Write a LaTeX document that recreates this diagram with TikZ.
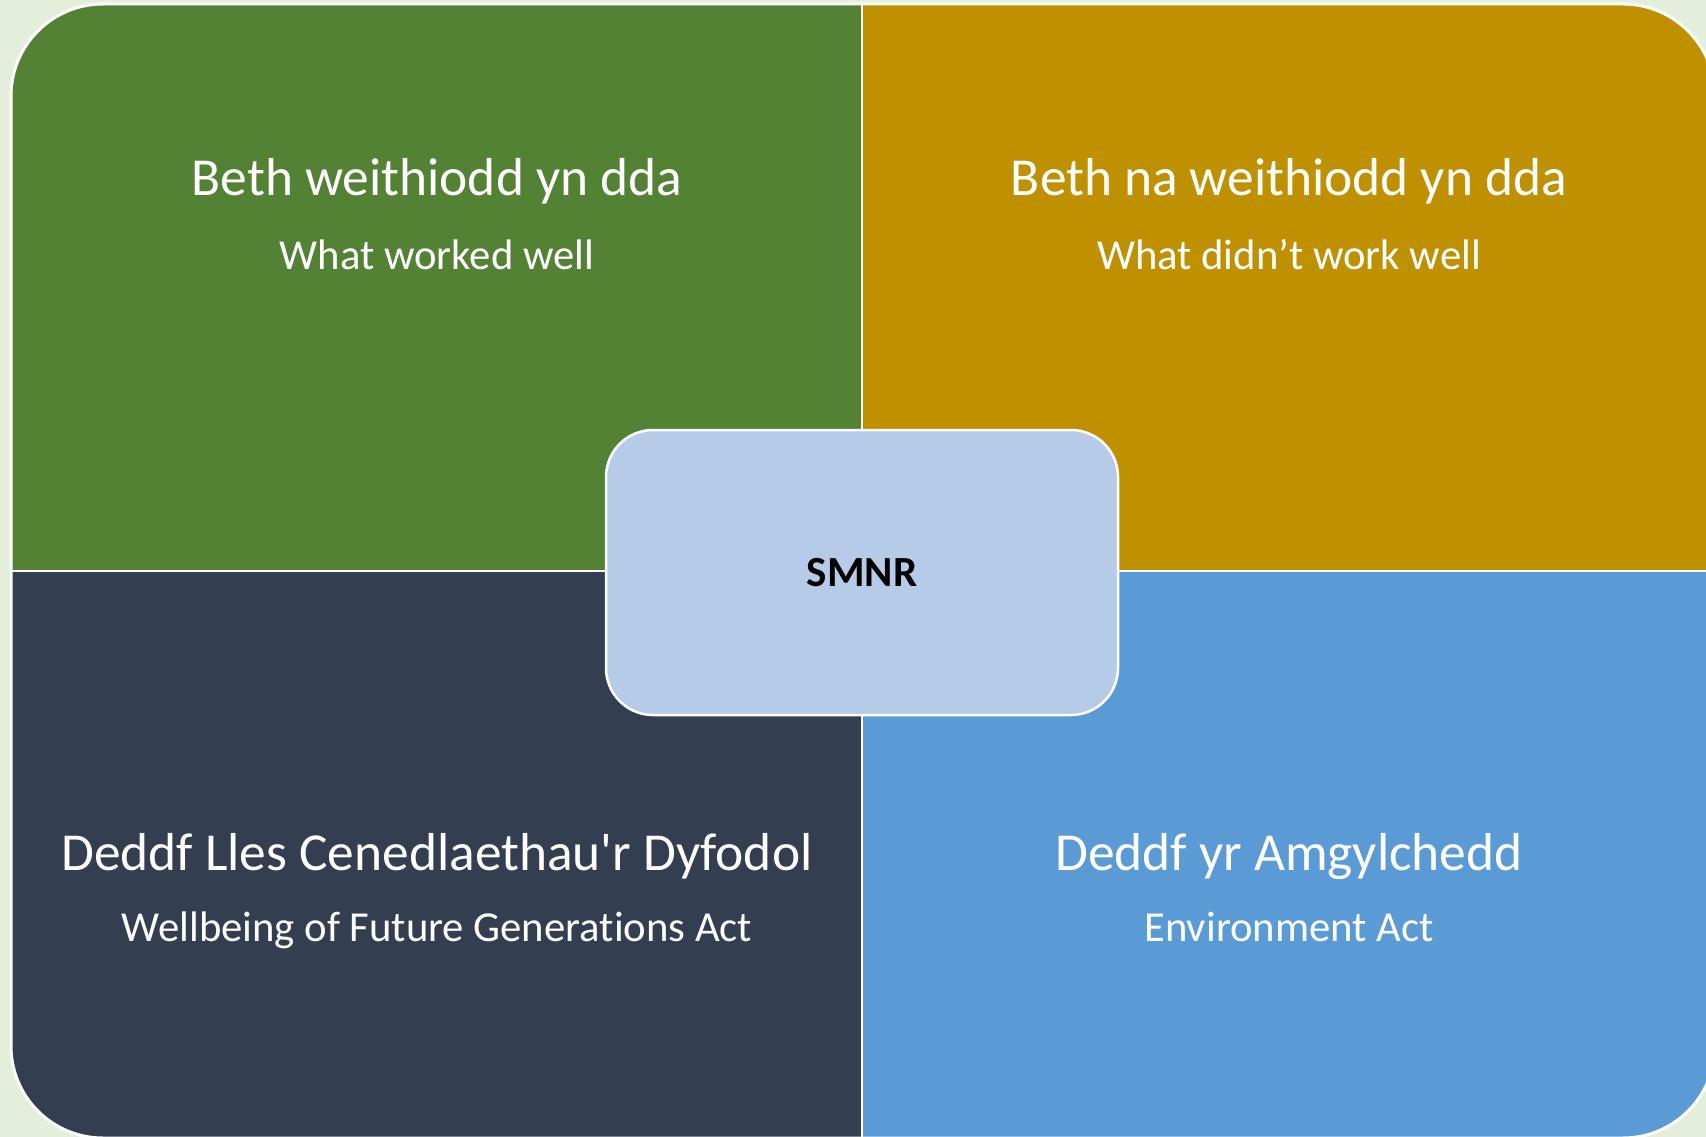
\documentclass[tikz,border=0pt]{standalone}
\usepackage{fontspec}
\setmainfont{Carlito}[Ligatures={TeXOff,NoCommon}]
\definecolor{bgc}{HTML}{E3EFDA}
\definecolor{qgreen}{HTML}{548235}
\definecolor{qgold}{HTML}{BF9000}
\definecolor{qnavy}{HTML}{333F50}
\definecolor{qblue}{HTML}{5B9BD5}
\definecolor{cbox}{HTML}{B6CBE8}
\tikzset{
  head/.style={anchor=base, text=white, font=\fontsize{53.4}{60}\selectfont, inner sep=0pt},
  sub/.style={anchor=base, text=white, font=\fontsize{42.7}{48}\selectfont, inner sep=0pt},
  centrebox/.style={fill=cbox, draw=white, line width=2.5pt, rounded corners=47pt,
    minimum width=512pt, minimum height=285pt, inner sep=0pt,
    font=\bfseries\fontsize{43}{48}\selectfont, text=black},
  divider/.style={draw=white, line width=2.5pt}
}
\begin{document}
\begin{tikzpicture}[x=1pt,y=-1pt]
\useasboundingbox (0,0) rectangle (1706,1137);
\clip (0,0) rectangle (1706,1137);
\fill[bgc] (0,0) rectangle (1706,1137);
\begin{scope}
  \clip[rounded corners=92pt] (11,4) rectangle (1715,1138);
  \fill[qgreen] (0,0) rectangle (862,571);
  \fill[qgold] (862,0) rectangle (1720,571);
  \fill[qnavy] (0,571) rectangle (862,1140);
  \fill[qblue] (862,571) rectangle (1720,1140);
  \coordinate (vt) at (862,0);
  \coordinate (vb) at (862,1140);
  \coordinate (hl) at (0,571);
  \coordinate (hr) at (1720,571);
  \draw[divider] (vt) -- (vb);
  \draw[divider] (hl) -- (hr);
\end{scope}
\draw[white, line width=3pt, rounded corners=92pt] (11,4) rectangle (1715,1138);
\node[centrebox] (smnr) at (862,572.5) {SMNR};
\node[head] (t1) at (437,196) {Beth weithiodd yn dda};
\node[sub] (s1) at (437,269) {What worked well};
\node[head] (t2) at (1289,196) {Beth na weithiodd yn dda};
\node[sub] (s2) at (1289,269) {What didn’t work well};
\node[head] (t3) at (437,870) {Deddf Lles Cenedlaethau'r Dyfodol};
\node[sub] (s3) at (437,941) {Wellbeing of Future Generations Act};
\node[head] (t4) at (1289,870) {Deddf yr Amgylchedd};
\node[sub] (s4) at (1289,941) {Environment Act};
\end{tikzpicture}
\end{document}
